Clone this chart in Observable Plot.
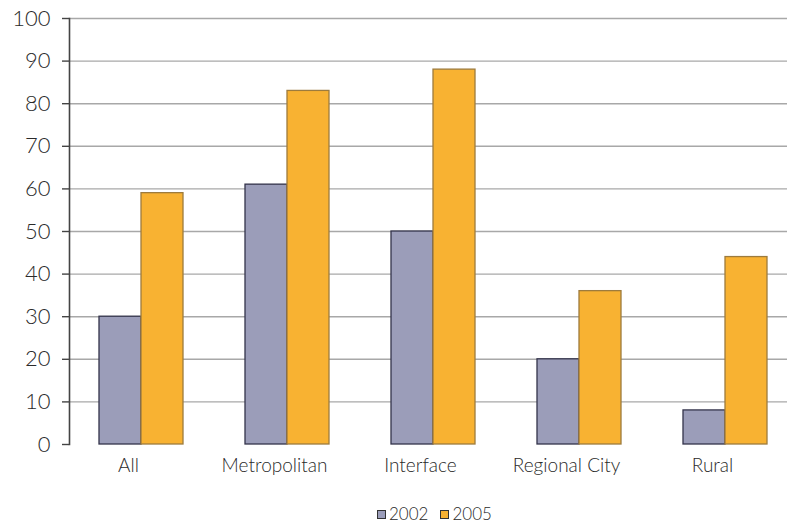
<!DOCTYPE html>
<html>
<head>
<meta charset="utf-8">
<script src="https://cdn.jsdelivr.net/npm/d3@7"></script>
<script src="https://cdn.jsdelivr.net/npm/@observablehq/plot@0.6"></script>
<style>
  html, body { margin: 0; padding: 0; background: #fff; }
  #chart { position: relative; width: 787px; height: 525px; overflow: hidden; font-family: Lato, "Open Sans", sans-serif; font-weight: 300; color: #2a2a2a; }
  #chart svg text { font-weight: 300; }
  .legend { position: absolute; left: 377px; top: 505px; height: 18px; line-height: 18px; display: flex; align-items: center; font-size: 17px; font-weight: 300; color: #2a2a2a; }
  .legend .sw { width: 7px; height: 7px; border: 1px solid #333; margin-right: 3px; }
  .legend .item { display: flex; align-items: center; margin-right: 12px; }
</style>
</head>
<body>
<div id="chart"></div>
<script>
// Share of respondents by area, 2002 vs 2005
const categories = ["All", "Metropolitan", "Interface", "Regional City", "Rural"];
const years = ["2002", "2005"];
const values2002 = [30, 61, 50, 20, 8];
const values2005 = [59, 83, 88, 36, 44];
const yTicks = [0, 10, 20, 30, 40, 50, 60, 70, 80, 90, 100];

const colors = { "2002": "#9b9db9", "2005": "#f8b232" };
const strokes = { "2002": "#33334a", "2005": "#9d7b3d" };

const rows2002 = categories.map((c, i) => ({ category: c, year: "2002", value: values2002[i] }));
const rows2005 = categories.map((c, i) => ({ category: c, year: "2005", value: values2005[i] }));

const chart = Plot.plot({
  width: 787,
  height: 505,
  marginTop: 18,
  marginBottom: 61,
  marginLeft: 69,
  marginRight: 0,
  style: { fontFamily: "Lato, 'Open Sans', sans-serif", color: "#2a2a2a", background: "#fff" },
  x: { domain: categories, range: [68, 798], padding: 0, axis: null },
  y: { domain: [0, 100], axis: null },
  marks: [
    Plot.ruleY(yTicks.filter(d => d > 0), { stroke: "#a8a8a8", strokeWidth: 1.4 }),
    Plot.barY(rows2002, { x: "category", y: "value", fill: colors["2002"], stroke: strokes["2002"], strokeWidth: 1.3, insetLeft: 31, insetRight: 73 }),
    Plot.barY(rows2005, { x: "category", y: "value", fill: colors["2005"], stroke: strokes["2005"], strokeWidth: 1.3, insetLeft: 73, insetRight: 31 }),
    Plot.frame({ anchor: "left", stroke: "#444", strokeWidth: 1.6 }),
    Plot.axisY({ ticks: yTicks, label: null, tickSize: 7, tickPadding: 12, fontSize: 22, stroke: "#444", strokeWidth: 1.4, tickFormat: d => String(d) }),
    Plot.axisX({ label: null, tickSize: 0, tickPadding: 14, fontSize: 19, dx: -13 })
  ]
});

const root = document.getElementById("chart");
root.appendChild(chart);

const legend = document.createElement("div");
legend.className = "legend";
for (const y of years) {
  const item = document.createElement("div");
  item.className = "item";
  const sw = document.createElement("span");
  sw.className = "sw";
  sw.style.background = colors[y];
  const label = document.createElement("span");
  label.textContent = y;
  item.appendChild(sw);
  item.appendChild(label);
  legend.appendChild(item);
}
root.appendChild(legend);
</script>
</body>
</html>
